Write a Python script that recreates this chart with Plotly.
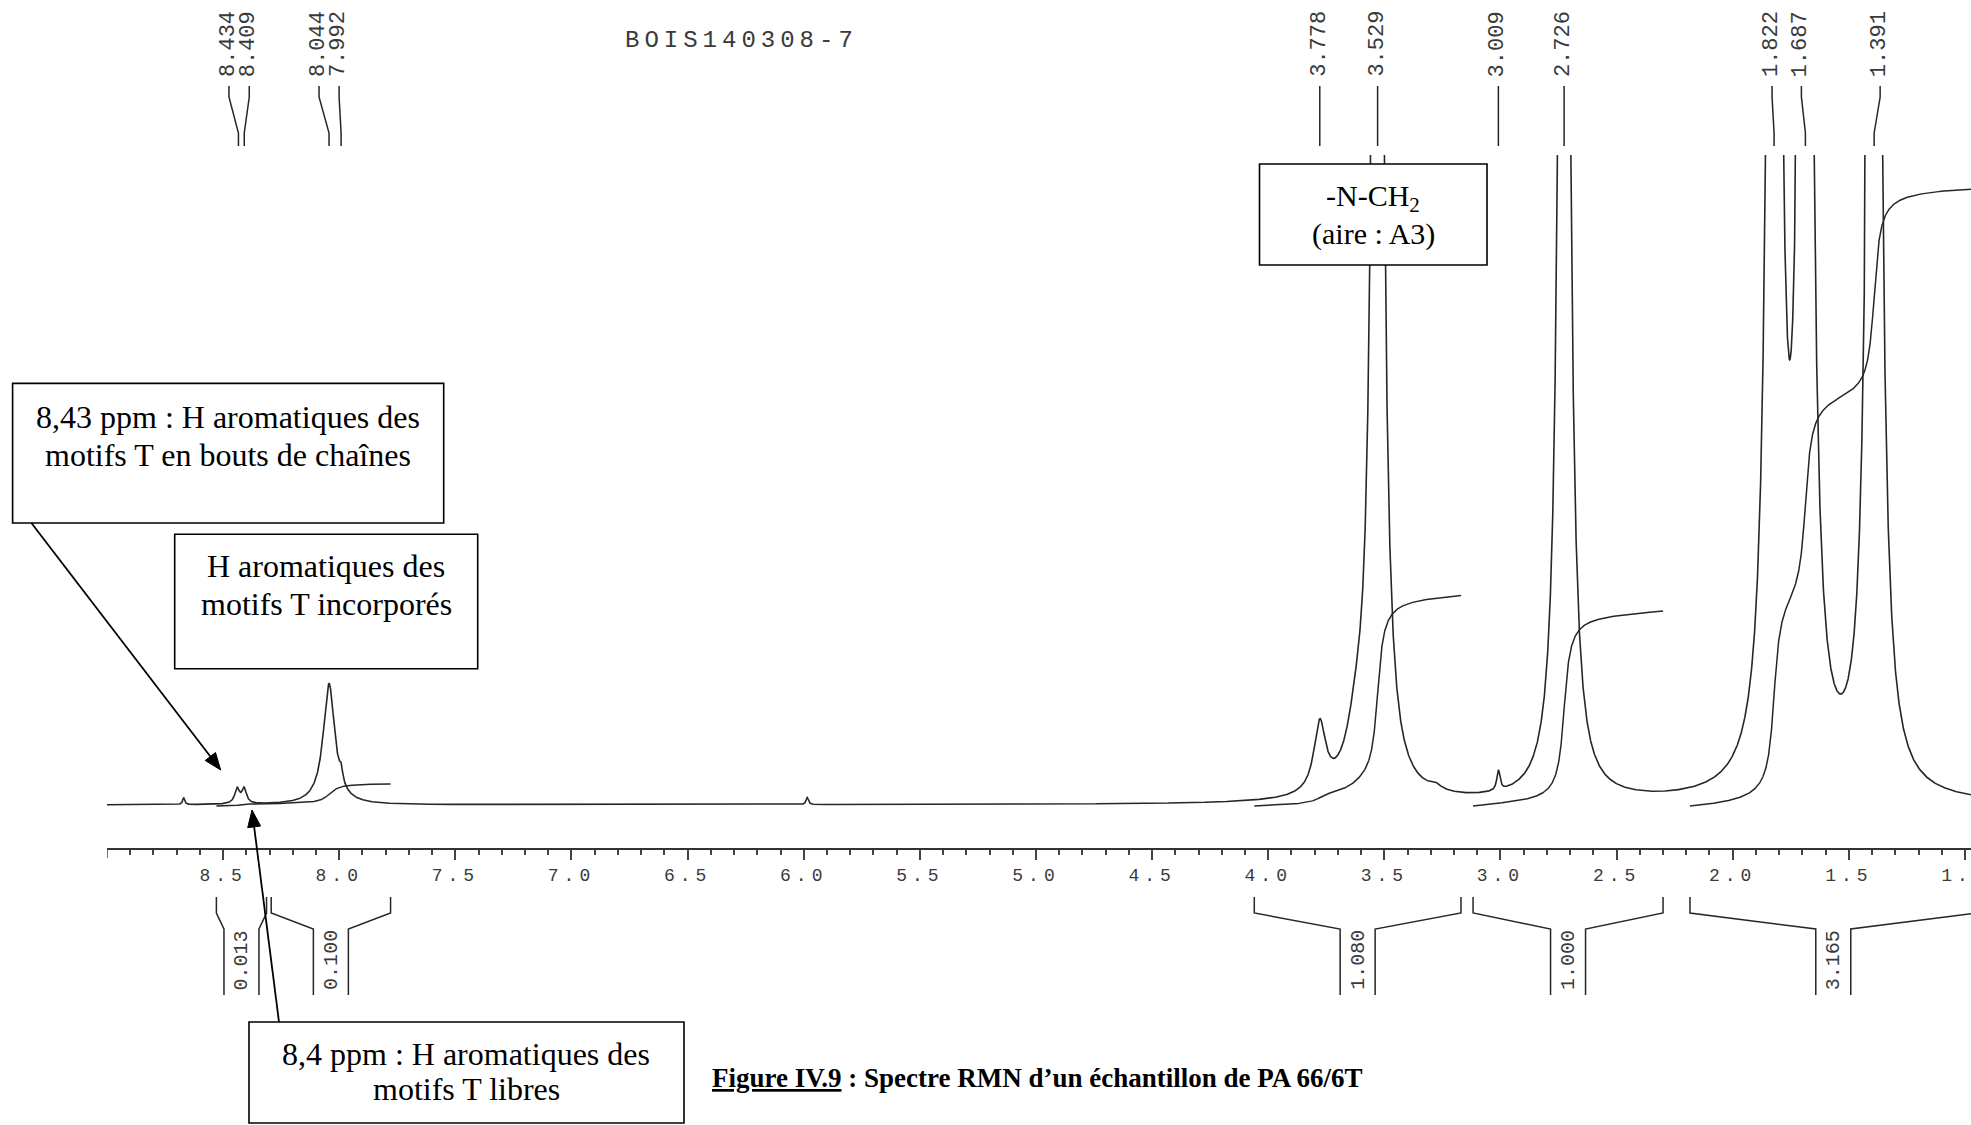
import numpy as np
import plotly.graph_objects as go

# ---------------- data ----------------
# Lorentzian peak list used to draw the 1H NMR trace (ppm, height above baseline, half-width)
peak_ppm = [8.670, 8.440, 8.410, 8.044, 7.992, 5.985, 3.778, 3.620, 3.529, 3.280, 3.009, 2.726, 1.822, 1.687, 1.391]
peak_height = [7, 15, 15, 121, 12, 7, 68, 45, 2000, 5, 20, 2000, 2700, 2700, 2700]
peak_hwhm = [0.005, 0.012, 0.012, 0.030, 0.008, 0.006, 0.030, 0.050, 0.020, 0.030, 0.008, 0.020, 0.020, 0.020, 0.020]

# picked peak labels (top)
label_ppm = [8.434, 8.409, 8.044, 7.992, 3.778, 3.529, 3.009, 2.726, 1.822, 1.687, 1.391]
label_text = ["8.434", "8.409", "8.044", "7.992", "3.778", "3.529", "3.009", "2.726", "1.822", "1.687", "1.391"]

# integral regions (bottom brackets) and their values
integral_from = [8.529, 8.293, 4.060, 3.118, 2.184]
integral_to = [8.313, 7.779, 3.170, 2.300, 0.950]
integral_value = [0.013, 0.100, 1.080, 1.000, 3.165]
integral_groups = [[0, 1], [2], [3], [4]]   # integral curves drawn over these regions

# axis ticks
axis_start = 9.0
tick_vals = [8.5, 8.0, 7.5, 7.0, 6.5, 6.0, 5.5, 5.0, 4.5, 4.0, 3.5, 3.0, 2.5, 2.0, 1.5, 1.0]
tick_text = ["8.5", "8.0", "7.5", "7.0", "6.5", "6.0", "5.5", "5.0", "4.5", "4.0", "3.5", "3.0", "2.5", "2.0", "1.5", "1.0"]

spectrum_id = "BOIS140308-7"
caption = "<b><u>Figure IV.9</u> : Spectre RMN d’un échantillon de PA 66/6T</b>"

# ---------------- layout constants (pixels) ----------------
W, H = 1971, 1125
X0_PX = 107          # left end of ppm axis
AX_Y_PX = 848        # axis line
TOP_PX = 155         # top of plotting area
BASE_PX = 805        # spectrum baseline
X_RANGE = [axis_start, 0.974]
PPM_PX = (W - X0_PX) / (X_RANGE[0] - X_RANGE[1])
INT_PX_PER_UNIT = 195.0
INT_BASE = -1.0


def PY(y):
    return 1 - y / H


def PX(x):
    return x / W


# ---------------- spectrum ----------------
ppm = np.arange(9.0, 0.9495, -0.0005)


def spectrum(x):
    s = np.zeros_like(x)
    for p0, h, w in zip(peak_ppm, peak_height, peak_hwhm):
        s += h * w * w / ((x - p0) ** 2 + w * w)
    return s


spec = spectrum(ppm)

fig = go.Figure()
LINE = "#262626"
fig.add_trace(go.Scatter(x=ppm, y=spec, mode="lines", line=dict(color=LINE, width=1.6),
                         hoverinfo="skip"))

# integral curves
for grp in integral_groups:
    a = integral_from[grp[0]]
    b = integral_to[grp[-1]]
    total = sum(integral_value[k] for k in grp)
    xs = np.arange(a, b - 1e-9, -0.0005)
    ys = spectrum(xs)
    cum = np.concatenate([[0.0], np.cumsum((ys[1:] + ys[:-1]) / 2 * 0.0005)])
    curve = INT_BASE + total * INT_PX_PER_UNIT * cum / cum[-1]
    fig.add_trace(go.Scatter(x=xs, y=curve, mode="lines", line=dict(color=LINE, width=1.5),
                             hoverinfo="skip"))

shapes = []
annotations = []
MONO = "Liberation Mono, Courier New, monospace"
SERIF = "Liberation Serif, Times New Roman, serif"
TXT = "#3a3a3a"

# long tick at the left end of the axis
shapes.append(dict(type="line", xref="x", yref="paper", x0=axis_start, x1=axis_start,
                   y0=PY(AX_Y_PX), y1=PY(AX_Y_PX + 10), line=dict(color="#444444", width=1.5)))

# peak labels on top (label column offset from the peak, in px)
label_shift_px = [-9.5, 5, -10, -2, 0, 0, 0, 0, -2, -4, 6]
for p, t, sh in zip(label_ppm, label_text, label_shift_px):
    xl = p - sh / PPM_PX
    path = f"M {xl},{PY(86)} L {xl},{PY(97)} L {p},{PY(133)} L {p},{PY(146)}"
    shapes.append(dict(type="path", path=path, xref="x", yref="paper",
                       line=dict(color=LINE, width=1.5)))
    annotations.append(dict(x=xl, y=PY(44), xref="x", yref="paper", text=t, textangle=-90,
                            showarrow=False, xanchor="center", yanchor="middle",
                            font=dict(family=MONO, size=22, color=TXT)))

# integral brackets below axis
half_gap = 17.5 / PPM_PX
for a, b, v in zip(integral_from, integral_to, integral_value):
    c = (a + b) / 2
    for edge, inner in ((a, c + half_gap), (b, c - half_gap)):
        path = (f"M {edge},{PY(897)} L {edge},{PY(913)} L {inner},{PY(929)} "
                f"L {inner},{PY(995)}")
        shapes.append(dict(type="path", path=path, xref="x", yref="paper",
                           line=dict(color=LINE, width=1.5)))
    annotations.append(dict(x=c, y=PY(960), xref="x", yref="paper", text=f"{v:.3f}",
                            textangle=-90, showarrow=False, xanchor="center", yanchor="middle",
                            font=dict(family=MONO, size=20, color=TXT)))

# spectrum id
annotations.append(dict(x=PX(741), y=PY(40), xref="paper", yref="paper",
                        text=f'<span style="letter-spacing:5px">{spectrum_id}</span>',
                        showarrow=False, xanchor="center", yanchor="middle",
                        font=dict(family=MONO, size=24, color=TXT)))

# text boxes
boxes = [
    ((12.6, 383.4, 443.7, 523.0), 228, 32,
     [("8,43 ppm : H aromatiques des", 417), ("motifs T en bouts de chaînes", 455)]),
    ((174.7, 534.2, 477.7, 668.7), 326, 32,
     [("H aromatiques des", 566), ("motifs T incorporés", 604)]),
    ((1259.5, 164.0, 1487.0, 265.0), 1373, 30,
     [("-N-CH<sub>2</sub>", 198), ("(aire : A3)", 234)]),
    ((249.0, 1022.0, 684.0, 1123.0), 466, 32,
     [("8,4 ppm : H aromatiques des", 1054), ("motifs T libres", 1089)]),
]
for (x0, y0, x1, y1), cx, fs, lines in boxes:
    shapes.append(dict(type="rect", xref="paper", yref="paper",
                       x0=PX(x0), x1=PX(x1), y0=PY(y1), y1=PY(y0),
                       line=dict(color="black", width=1.6), fillcolor="white", layer="above"))
    for txt, yy in lines:
        annotations.append(dict(x=PX(cx), y=PY(yy), xref="paper", yref="paper", text=txt,
                                showarrow=False, xanchor="center", yanchor="middle",
                                font=dict(family=SERIF, size=fs, color="black")))

# arrows (line + filled head)
for (tx, ty), (hx, hy) in [((31.4, 523.0), (220.7, 770.0)), ((279.0, 1022.0), (252.0, 810.0))]:
    dx, dy = hx - tx, hy - ty
    n = (dx * dx + dy * dy) ** 0.5
    ux, uy = dx / n, dy / n
    L, hw = 17.0, 6.5
    bx, by = hx - L * ux, hy - L * uy
    shapes.append(dict(type="line", xref="paper", yref="paper",
                       x0=PX(tx), y0=PY(ty), x1=PX(bx), y1=PY(by),
                       line=dict(color="black", width=1.8)))
    p1 = (bx - hw * uy, by + hw * ux)
    p2 = (bx + hw * uy, by - hw * ux)
    path = (f"M {PX(hx)},{PY(hy)} L {PX(p1[0])},{PY(p1[1])} "
            f"L {PX(p2[0])},{PY(p2[1])} Z")
    shapes.append(dict(type="path", path=path, xref="paper", yref="paper",
                       fillcolor="black", line=dict(color="black", width=1)))

# caption
annotations.append(dict(x=PX(710), y=PY(1078), xref="paper", yref="paper", text=caption,
                        showarrow=False, xanchor="left", yanchor="middle",
                        font=dict(family=SERIF, size=27, color="black")))

minor_vals = [round(9.0 - 0.1 * k, 1) for k in range(81)]
minor_vals = [v for v in minor_vals if abs(v * 2 - round(v * 2)) > 1e-6]

tick_labels = [f'<span style="letter-spacing:5px">{t}</span>' for t in tick_text]

fig.update_layout(
    width=W, height=H,
    margin=dict(l=0, r=0, t=0, b=0, autoexpand=False),
    paper_bgcolor="white", plot_bgcolor="white",
    showlegend=False,
    xaxis=dict(domain=[X0_PX / W, 1], range=X_RANGE, showgrid=False, zeroline=False,
               automargin=False,
               showline=True, linecolor="#333333", linewidth=2,
               ticks="outside", ticklen=10, tickwidth=1.5, tickcolor="#444444",
               tickmode="array", tickvals=tick_vals, ticktext=tick_labels,
               tickfont=dict(family=MONO, size=18, color=TXT), ticklabelstandoff=-1,
               ticklabeloverflow="allow",
               minor=dict(tickmode="array", tickvals=minor_vals, ticks="outside", ticklen=5,
                          tickwidth=1.5, tickcolor="#444444", showgrid=False)),
    yaxis=dict(domain=[1 - AX_Y_PX / H, 1 - TOP_PX / H],
               range=[-(AX_Y_PX - BASE_PX), BASE_PX - TOP_PX], visible=False),
    shapes=shapes,
    annotations=annotations,
)

page_js = ("document.documentElement.style.overflow='hidden';"
           "document.body.style.margin='0px';document.body.style.overflow='hidden';")

fig.write_html("out.html", config={"displayModeBar": False}, post_script=page_js)
